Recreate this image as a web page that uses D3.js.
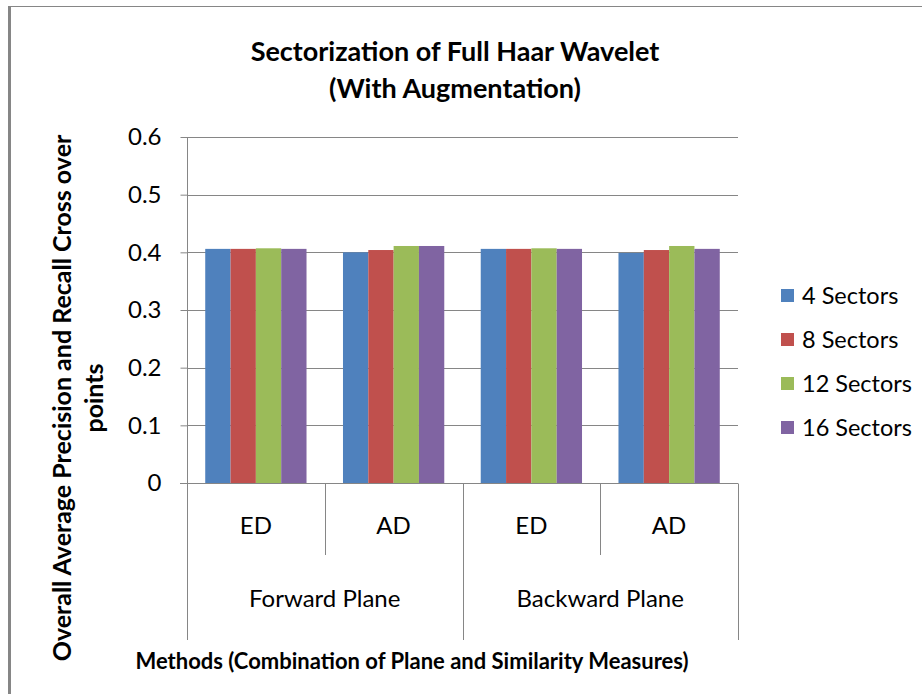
<!DOCTYPE html>
<html>
<head>
<meta charset="utf-8">
<script src="https://cdn.jsdelivr.net/npm/d3@7"></script>
<style>
  body { margin: 0; background: #fff; }
  text { font-family: Lato, "Open Sans", sans-serif; fill: #000; }
</style>
</head>
<body>
<div id="chart"></div>
<script>
// data
var methods = ["ED", "AD", "ED", "AD"];
var planes = ["Forward Plane", "Backward Plane"];
var seriesNames = ["4 Sectors", "8 Sectors", "12 Sectors", "16 Sectors"];
var sectors4 = [0.406, 0.400, 0.406, 0.399];
var sectors8 = [0.406, 0.404, 0.406, 0.404];
var sectors12 = [0.407, 0.411, 0.407, 0.411];
var sectors16 = [0.406, 0.411, 0.406, 0.406];
var yTicks = [0, 0.1, 0.2, 0.3, 0.4, 0.5, 0.6];
var colors = ["#4F81BD", "#C0504D", "#9BBB59", "#8064A2"];

var svgWidth = 922;
var svgHeight = 694;
var plot = { left: 187, right: 738, top: 137, bottom: 483 };

var svg = d3.select("#chart").append("svg")
  .attr("width", svgWidth)
  .attr("height", svgHeight);

// frame (top and left edges only are visible)
svg.append("line").attr("x1", 8).attr("x2", 922).attr("y1", 6.5).attr("y2", 6.5)
  .attr("stroke", "#868686").attr("stroke-width", 1);
svg.append("line").attr("x1", 9.5).attr("x2", 9.5).attr("y1", 6).attr("y2", 694)
  .attr("stroke", "#868686").attr("stroke-width", 3);

var allSeries = [sectors4, sectors8, sectors12, sectors16];
var cats = d3.range(methods.length);

var x = d3.scaleBand().domain(cats).range([plot.left, plot.right]);
var xInner = d3.scaleBand().domain(d3.range(seriesNames.length))
  .range([0, x.bandwidth()]).paddingOuter(0.72).paddingInner(0);
var y = d3.scaleLinear().domain([0, 0.6]).range([plot.bottom, plot.top]);

// gridlines
svg.append("g").selectAll("line").data(yTicks.slice(1)).enter().append("line")
  .attr("x1", plot.left).attr("x2", plot.right)
  .attr("y1", function(d) { return Math.round(y(d)) + 0.5; })
  .attr("y2", function(d) { return Math.round(y(d)) + 0.5; })
  .attr("stroke", "#868686");

// bars
cats.forEach(function(c) {
  allSeries.forEach(function(s, i) {
    svg.append("rect")
      .attr("x", x(c) + xInner(i))
      .attr("y", y(s[c]))
      .attr("width", xInner.bandwidth())
      .attr("height", y(0) - y(s[c]))
      .attr("fill", colors[i]);
  });
});

// y axis
var leftAxis = d3.axisLeft(y).tickValues(yTicks).tickSize(7).tickPadding(19)
  .tickFormat(function(d) { return d === 0 ? "0" : d3.format(".1f")(d); });
var yAxisG = svg.append("g")
  .attr("transform", "translate(" + (plot.left + 0.5) + ",0)")
  .call(leftAxis);
yAxisG.select(".domain").attr("stroke", "#868686").attr("d", "M0," + plot.top + "V" + (plot.bottom + 1));
yAxisG.selectAll(".tick line").attr("stroke", "#868686");
yAxisG.selectAll(".tick text").style("font-size", "24px").attr("fill", "#000");

// category axis line
var axisY = Math.round(y(0)) + 0.5;
svg.append("line").attr("x1", plot.left - 7).attr("x2", plot.right)
  .attr("y1", axisY).attr("y2", axisY).attr("stroke", "#868686");

// category dividers
var dividerData = cats.map(function(c) { return { x: x(c), full: c % 2 === 0 }; });
dividerData.push({ x: plot.right, full: true });
svg.append("g").selectAll("line").data(dividerData).enter().append("line")
  .attr("x1", function(d) { return Math.round(d.x) + 0.5; })
  .attr("x2", function(d) { return Math.round(d.x) + 0.5; })
  .attr("y1", axisY)
  .attr("y2", function(d) { return d.full ? 640 : 555; })
  .attr("stroke", "#868686");

// method labels
svg.append("g").selectAll("text").data(cats).enter().append("text")
  .attr("x", function(c) { return x(c) + x.bandwidth() / 2; })
  .attr("y", 534)
  .attr("text-anchor", "middle")
  .style("font-size", "24px")
  .text(function(c) { return methods[c]; });

// plane labels
svg.append("g").selectAll("text").data(planes).enter().append("text")
  .attr("x", function(d, i) { return x(i * 2) + x.bandwidth(); })
  .attr("y", 607)
  .attr("text-anchor", "middle")
  .style("font-size", "24px")
  .text(function(d) { return d; });

// title
var title = svg.append("text")
  .attr("x", 455)
  .attr("text-anchor", "middle")
  .style("font-size", "27px")
  .style("font-weight", "bold");
title.append("tspan").attr("x", 455).attr("y", 61).text("Sectorization of Full Haar Wavelet");
title.append("tspan").attr("x", 455).attr("y", 98).text("(With Augmentation)");

// x axis title
svg.append("text")
  .attr("x", 412)
  .attr("y", 669)
  .attr("text-anchor", "middle")
  .style("font-size", "22px")
  .style("font-weight", "bold")
  .text("Methods (Combination of Plane and Similarity Measures)");

// y axis title
var yTitle = svg.append("text")
  .attr("transform", "rotate(-90)")
  .attr("text-anchor", "middle")
  .style("font-size", "25px")
  .style("font-weight", "bold");
yTitle.append("tspan").attr("x", -398).attr("y", 71).text("Overall Average Precision and Recall Cross over");
yTitle.append("tspan").attr("x", -398).attr("y", 103).text("points");

// legend
var legend = svg.append("g").selectAll("g").data(seriesNames).enter().append("g")
  .attr("transform", function(d, i) { return "translate(781," + (296 + i * 44) + ")"; });
legend.append("rect")
  .attr("x", 0).attr("y", -7)
  .attr("width", 13).attr("height", 13)
  .attr("fill", function(d, i) { return colors[i]; });
legend.append("text")
  .attr("x", 21).attr("y", 8)
  .style("font-size", "23.5px")
  .text(function(d) { return d; });
</script>
</body>
</html>
